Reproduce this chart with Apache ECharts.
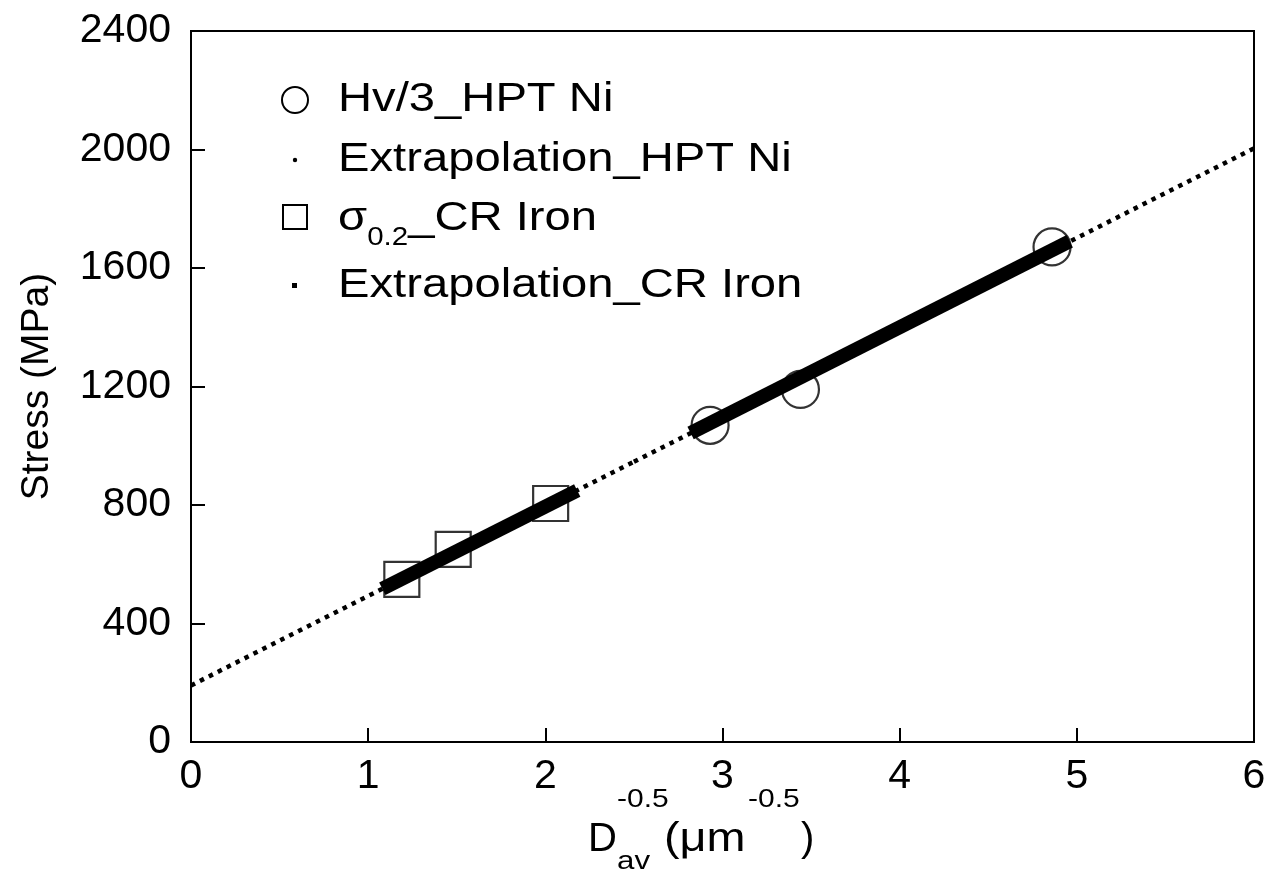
<!DOCTYPE html>
<html>
<head>
<meta charset="utf-8">
<script src="https://cdn.jsdelivr.net/npm/echarts@6/dist/echarts.min.js"></script>
<style>
  html, body { margin: 0; padding: 0; background: #fff; }
  #chart { width: 1270px; height: 879px; }
</style>
</head>
<body>
<div id="chart"></div>
<script>
// data
var xTicks = [0, 1, 2, 3, 4, 5, 6];
var yTicks = [0, 400, 800, 1200, 1600, 2000, 2400];

var niX = [2.93, 3.44, 4.86];
var niStress = [1069, 1190, 1671];
var ironX = [1.19, 1.48, 2.03];
var ironStress = [549, 650, 805];

// thick fitted segments
var niFitX = [2.82, 4.96];
var niFitY = [1043, 1690];
var ironFitX = [1.08, 2.18];
var ironFitY = [517, 849];

// dotted extrapolations
var niExtX = [2.5, 6];
var niExtY = [946, 2004];
var ironExtX = [0, 2.5];
var ironExtY = [191, 946];

function pairs(xs, ys) {
  return xs.map(function (x, i) { return [x, ys[i]]; });
}

var font = '"Liberation Sans", Arial, sans-serif';
var chart = echarts.init(document.getElementById('chart'));

// plain text helper for the graphic layer
function label(str, x, y, size, sx) {
  return {
    type: 'text', x: x, y: y, scaleX: sx || 1,
    style: { text: str, fontSize: size, fontFamily: font, fill: '#000', verticalAlign: 'middle' }
  };
}

var option = {
  animation: false,
  backgroundColor: '#fff',
  grid: {
    left: 191, right: 16, top: 31, bottom: 137,
    show: true, borderColor: '#000', borderWidth: 2, backgroundColor: 'transparent'
  },
  xAxis: {
    type: 'value',
    min: xTicks[0], max: xTicks[xTicks.length - 1], interval: 1,
    axisLine: { lineStyle: { color: '#000', width: 2 } },
    axisTick: { inside: true, length: 14, lineStyle: { color: '#000', width: 2 } },
    axisLabel: { color: '#000', fontSize: 41, fontFamily: font, margin: 14 },
    splitLine: { show: false }
  },
  yAxis: {
    type: 'value',
    min: yTicks[0], max: yTicks[yTicks.length - 1], interval: 400,
    name: 'Stress (MPa)',
    nameLocation: 'middle',
    nameGap: 134,
    nameTextStyle: { color: '#000', fontSize: 39, fontFamily: font },
    axisLine: { lineStyle: { color: '#000', width: 2 } },
    axisTick: { inside: true, length: 14, lineStyle: { color: '#000', width: 2 } },
    axisLabel: {
      color: '#000', fontSize: 41, fontFamily: font, margin: 20,
      formatter: function (v) { return String(v); }
    },
    splitLine: { show: false }
  },
  series: [
    {
      name: 'Hv/3_HPT Ni', type: 'scatter', symbol: 'circle', symbolSize: 37, z: 2,
      itemStyle: { color: 'transparent', borderColor: '#000', borderWidth: 2.2 },
      data: pairs(niX, niStress)
    },
    {
      name: 'σ0.2_CR Iron', type: 'scatter', symbol: 'rect', symbolSize: 35, z: 2,
      itemStyle: { color: 'transparent', borderColor: '#000', borderWidth: 2.2 },
      data: pairs(ironX, ironStress)
    },
    {
      name: 'Extrapolation_CR Iron', type: 'line', showSymbol: false, z: 3,
      lineStyle: { color: '#000', width: 4.5, type: [4.5, 5.5], cap: 'butt' },
      data: pairs(ironExtX, ironExtY)
    },
    {
      name: 'Extrapolation_HPT Ni', type: 'line', showSymbol: false, z: 3,
      lineStyle: { color: '#000', width: 4.5, type: [4.5, 5.5], cap: 'butt' },
      data: pairs(niExtX, niExtY)
    },
    {
      name: 'Fit_CR Iron', type: 'line', showSymbol: false, z: 4,
      lineStyle: { color: '#000', width: 14, cap: 'butt' },
      data: pairs(ironFitX, ironFitY)
    },
    {
      name: 'Fit_HPT Ni', type: 'line', showSymbol: false, z: 4,
      lineStyle: { color: '#000', width: 14, cap: 'butt' },
      data: pairs(niFitX, niFitY)
    }
  ],
  graphic: [
    // legend
    { type: 'circle', shape: { cx: 295, cy: 100, r: 13 }, style: { fill: 'none', stroke: '#000', lineWidth: 2 } },
    label('Hv/3_HPT Ni', 338, 100, 40, 1.18),
    { type: 'circle', shape: { cx: 295, cy: 160, r: 2.2 }, style: { fill: '#000' } },
    label('Extrapolation_HPT Ni', 338, 160, 40, 1.18),
    { type: 'rect', shape: { x: 283, y: 205, width: 24, height: 24 }, style: { fill: 'none', stroke: '#000', lineWidth: 2 } },
    {
      type: 'text', x: 338, y: 217, scaleX: 1.18,
      style: {
        text: '{s|σ}{sub|0.2}{b|_CR Iron}',
        fill: '#000', verticalAlign: 'middle',
        rich: {
          s: { fontSize: 40, fontFamily: font, lineHeight: 44, verticalAlign: 'bottom' },
          sub: { fontSize: 25, fontFamily: font, padding: [0, 0, -12, 0], verticalAlign: 'bottom' },
          b: { fontSize: 40, fontFamily: font, lineHeight: 44, verticalAlign: 'bottom' }
        }
      }
    },
    { type: 'rect', shape: { x: 292, y: 283, width: 5, height: 5 }, style: { fill: '#000' } },
    label('Extrapolation_CR Iron', 338, 286, 40, 1.18),
    // x axis title
    label('D', 588, 840, 40, 1),
    label('av', 617, 862, 25, 1.25),
    label('-0.5', 617, 800, 25, 1.2),
    label('(μm', 664, 840, 40, 1.17),
    label('-0.5', 748, 800, 25, 1.2),
    label(')', 801, 840, 40, 1)
  ]
};

chart.setOption(option);
</script>
</body>
</html>
